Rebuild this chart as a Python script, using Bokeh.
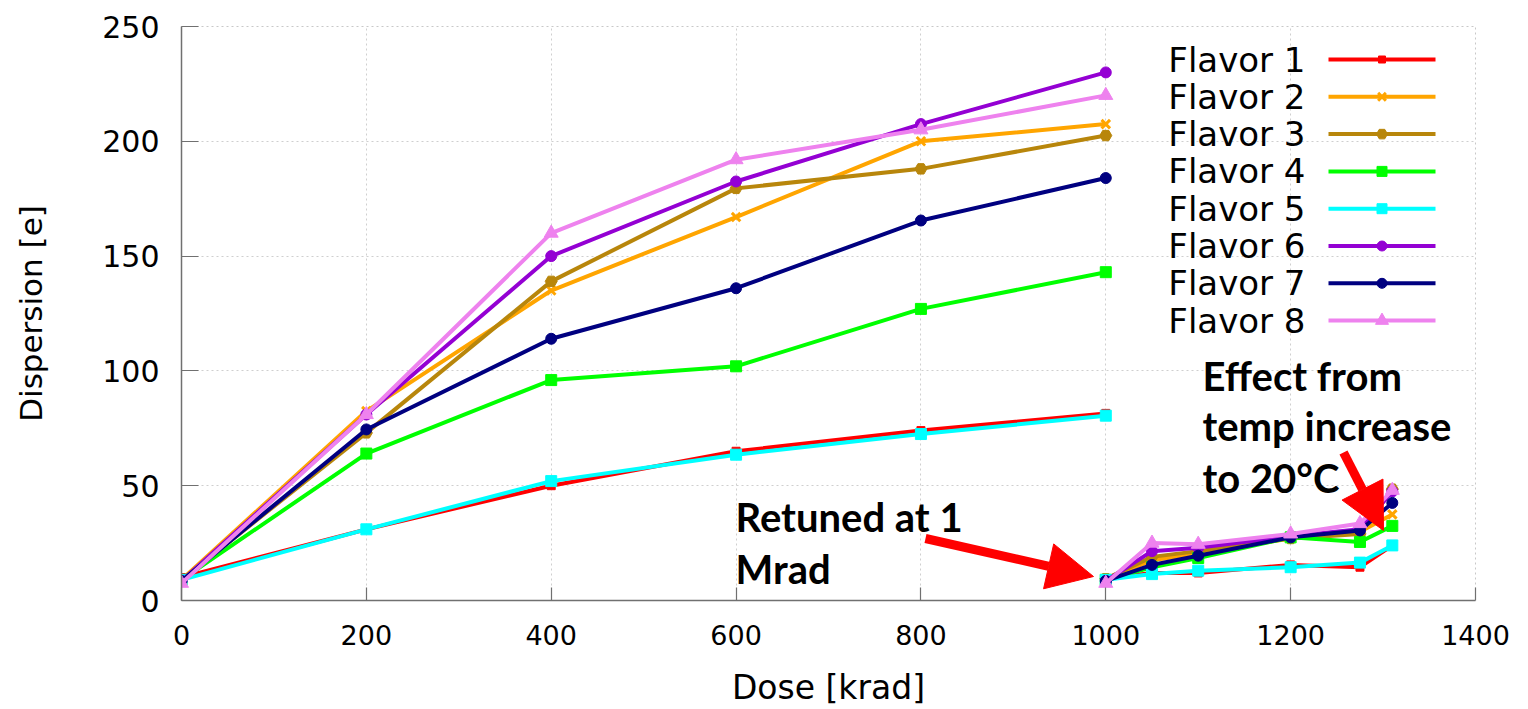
from bokeh.plotting import figure
from bokeh.models import Range1d, Label, Arrow, NormalHead, FixedTicker
from bokeh.core.properties import value
from bokeh.embed import file_html
from bokeh.resources import INLINE

# ---------------- data ----------------
dose_run1 = [0, 200, 400, 600, 800, 1000]
dose_run2 = [1000, 1050, 1100, 1200, 1275, 1310]

flavor_names = ["Flavor 1", "Flavor 2", "Flavor 3", "Flavor 4",
                "Flavor 5", "Flavor 6", "Flavor 7", "Flavor 8"]

flavor1_run1 = [10, 31, 50, 65, 74, 81.5]
flavor2_run1 = [9, 82.5, 135, 167, 200, 207.5]
flavor3_run1 = [9, 73, 139, 179.5, 188, 202.5]
flavor4_run1 = [9, 64, 96, 102, 127, 143]
flavor5_run1 = [9, 31, 52, 63.5, 72.5, 80.5]
flavor6_run1 = [8.5, 81, 150, 182.5, 207.5, 230]
flavor7_run1 = [8.5, 74.5, 114, 136, 165.5, 184]
flavor8_run1 = [7.5, 81, 160, 192, 205, 220]

flavor1_run2 = [9.5, 12, 12, 15.5, 14.5, 24]
flavor2_run2 = [9.5, 17.5, 20.5, 27, 30, 37.5]
flavor3_run2 = [9.5, 19, 21.5, 27, 29, 48.5]
flavor4_run2 = [9, 14.5, 18.5, 27.5, 25.5, 32.5]
flavor5_run2 = [9, 11.5, 13, 14.5, 16.5, 24]
flavor6_run2 = [8.5, 21.5, 23, 28, 31, 47.5]
flavor7_run2 = [8.5, 15.5, 19.5, 27.5, 30.5, 42.5]
flavor8_run2 = [7.5, 25, 24.5, 29, 33.5, 48]

x_ticks = [0, 200, 400, 600, 800, 1000, 1200, 1400]
y_ticks = [0, 50, 100, 150, 200, 250]

run1 = [flavor1_run1, flavor2_run1, flavor3_run1, flavor4_run1,
        flavor5_run1, flavor6_run1, flavor7_run1, flavor8_run1]
run2 = [flavor1_run2, flavor2_run2, flavor3_run2, flavor4_run2,
        flavor5_run2, flavor6_run2, flavor7_run2, flavor8_run2]

# ---------------- styles ----------------
colors = ["#ff0000", "#ffa500", "#b8860b", "#00ff00",
          "#00ffff", "#9400d3", "#000080", "#ee82ee"]
markers = ["square", "x", "hex", "square", "square", "circle", "circle", "triangle"]
msizes = [8, 12, 12, 11, 11, 11, 11, 14]

# frame geometry (pixels)
FL, FR, FT, FB = 181, 1475, 26, 600
W, H = 1528, 709
XMIN, XMAX, YMIN, YMAX = 0, 1400, 0, 250


def dx(px):
    return XMIN + (px - FL) / (FR - FL) * (XMAX - XMIN)


def dy(py):
    return YMIN + (FB - py) / (FB - FT) * (YMAX - YMIN)


p = figure(width=W, height=H, output_backend="svg", toolbar_location=None,
           x_range=Range1d(XMIN, XMAX), y_range=Range1d(YMIN, YMAX),
           min_border_left=FL, min_border_right=W - FR,
           min_border_top=FT, min_border_bottom=H - FB)
p.background_fill_color = "white"
p.border_fill_color = "white"
p.outline_line_color = "#c8c8c8"
p.outline_line_dash = "2 3"
p.outline_line_width = 1

for ax in (p.xaxis[0], p.yaxis[0]):
    ax.axis_line_color = "#707070"
    ax.axis_line_width = 1.5
    ax.major_tick_line_color = "#707070"
    ax.major_tick_line_width = 1.2
    ax.major_tick_out = 0
    ax.minor_tick_line_color = None
    ax.major_label_text_font = "DejaVu Sans"
    ax.major_label_text_color = "black"
    ax.axis_label_text_font = "DejaVu Sans"
    ax.axis_label_text_font_style = "normal"
    ax.axis_label_text_color = "black"

p.xaxis.ticker = FixedTicker(ticks=x_ticks)
p.yaxis.ticker = FixedTicker(ticks=y_ticks)
p.xaxis.major_tick_in = 13
p.yaxis.major_tick_in = 17
p.xaxis.major_label_text_font_size = "27px"
p.yaxis.major_label_text_font_size = "30px"
p.xaxis.major_label_standoff = 24
p.yaxis.major_label_standoff = 22
p.xaxis.axis_label = "Dose [krad]"
p.yaxis.axis_label = "Dispersion [e]"
p.xaxis.axis_label_text_font_size = "33px"
p.yaxis.axis_label_text_font_size = "31px"
p.xaxis.axis_label_standoff = 20
p.yaxis.axis_label_standoff = 50

p.xgrid.ticker = FixedTicker(ticks=x_ticks)
p.ygrid.ticker = FixedTicker(ticks=y_ticks)
for g in (p.xgrid[0], p.ygrid[0]):
    g.grid_line_color = "#cfcfcf"
    g.grid_line_dash = "2 3"
    g.grid_line_width = 1

# ---------------- series ----------------
for i in range(8):
    for xs, ys in ((dose_run1, run1[i]), (dose_run2, run2[i])):
        p.line(xs, ys, line_color=colors[i], line_width=4)
        p.scatter(xs, ys, marker=markers[i], size=msizes[i],
                  fill_color=colors[i], line_color=colors[i],
                  line_width=3 if markers[i] == "x" else 1)

# ---------------- legend (gnuplot style: text then sample) ----------------
LEG_TEXT_R, LEG_LINE_L, LEG_LINE_R = 1305, 1328, 1435
LEG_TOP, LEG_PITCH = 59, 37.3
for i in range(8):
    yy = dy(LEG_TOP + LEG_PITCH * i)
    p.text(x=[dx(LEG_TEXT_R)], y=[yy], text=[flavor_names[i]],
           text_font=value("DejaVu Sans"), text_font_size="34px",
           text_align="right", text_baseline="middle", text_color="black")
    p.line([dx(LEG_LINE_L), dx(LEG_LINE_R)], [yy, yy],
           line_color=colors[i], line_width=4)
    p.scatter([dx((LEG_LINE_L + LEG_LINE_R) / 2)], [yy], marker=markers[i],
              size=msizes[i] - 1, fill_color=colors[i], line_color=colors[i],
              line_width=3 if markers[i] == "x" else 1)

# ---------------- annotations ----------------
ann_font = "Lato"
ann_size = "40px"
for txt, px, py in (("Retuned at 1", 735, 516), ("Mrad", 735, 568),
                    ("Effect from", 1202, 375), ("temp increase", 1202, 425),
                    ("to 20°C", 1202, 477)):
    p.add_layout(Label(x=dx(px), y=dy(py), text=txt, text_font=ann_font,
                       text_font_size=ann_size, text_font_style="bold",
                       text_color="black", text_baseline="alphabetic",
                       text_align="left"))

for (x0, y0, x1, y1) in ((925, 538, 1093, 576), (1343, 452, 1383, 530)):
    p.add_layout(Arrow(end=NormalHead(size=46, fill_color="#ff0000",
                                      line_color="#ff0000"),
                       x_start=dx(x0), y_start=dy(y0),
                       x_end=dx(x1), y_end=dy(y1),
                       line_color="#ff0000", line_width=9))

open("out.html", "w").write(file_html(p, INLINE))
